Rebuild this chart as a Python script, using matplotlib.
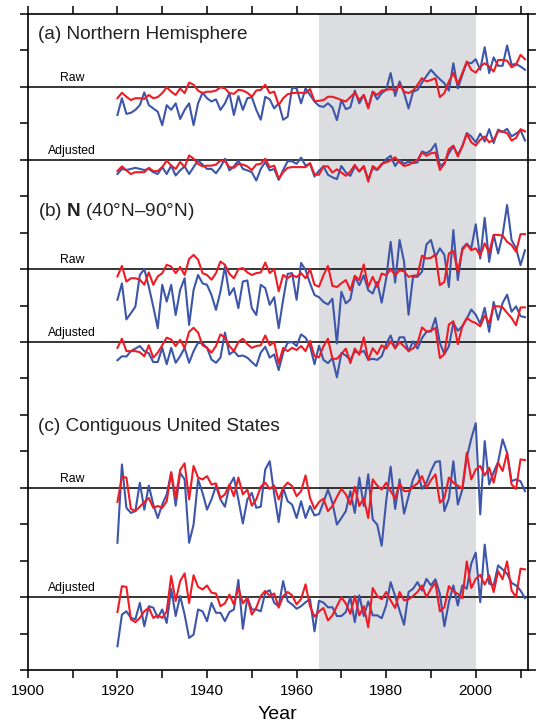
import matplotlib
matplotlib.use('Agg')
import matplotlib.pyplot as plt
import numpy as np
from matplotlib import rcParams
from matplotlib.ticker import MultipleLocator

rcParams['font.family'] = ['Liberation Sans', 'DejaVu Sans']
rcParams['mathtext.fontset'] = 'custom'
rcParams['mathtext.rm'] = 'Liberation Sans'
rcParams['mathtext.bf'] = 'Liberation Sans:bold'

# years of the series
years = np.arange(1920, 2012)

# anomalies (units = one y tick)
# (a) Northern Hemisphere
a_raw_blue = [-0.77, -0.31, -0.74, -0.71, -0.63, -0.5, -0.15, -0.5, -0.59, -0.68,
              -1.05, -0.5, -0.63, -0.45, -0.88, -0.63, -0.45, -1.05, -0.45, -0.16,
              -0.31, -0.4, -0.34, -0.63, -0.45, -0.17, -0.77, -0.25, -0.63, -0.31,
              -0.28, -0.63, -0.9, -0.27, -0.34, -0.59, -0.45, -0.9, -0.82, -0.02,
              -0.04, -0.45, -0.04, -0.22, -0.4, -0.52, -0.55, -0.45, -0.56, -0.91,
              -0.36, -0.61, -0.56, -0.1, -0.45, -0.22, -0.56, -0.13, -0.34, -0.17,
              -0.08, 0.38, -0.25, 0.15, -0.17, -0.59, -0.13, -0.08, 0.12, 0.3,
              0.47, 0.33, 0.21, 0.1, -0.1, 0.65, -0.04, 0.33, 0.67, 0.65,
              0.76, 0.47, 1.09, 0.38, 0.81, 0.58, 0.58, 1.14, 0.61, 0.63,
              0.56, 0.47]
a_raw_red = [-0.31, -0.16, -0.27, -0.36, -0.31, -0.31, -0.33, -0.22, -0.31, -0.28,
             -0.17, -0.01, -0.13, -0.22, -0.04, -0.17, 0.12, 0.06, -0.1, -0.17,
             -0.13, -0.13, -0.1, -0.01, -0.04, -0.17, -0.19, -0.08, -0.1, -0.16,
             -0.27, -0.1, -0.08, 0.06, -0.17, -0.13, -0.5, -0.31, -0.2, -0.17,
             -0.16, -0.16, -0.17, -0.06, -0.39, -0.38, -0.36, -0.27, -0.27, -0.31,
             -0.36, -0.4, -0.28, -0.16, -0.36, -0.22, -0.59, -0.13, -0.22, -0.1,
             -0.08, -0.06, -0.1, 0.06, -0.13, -0.17, -0.1, 0.06, 0.24, 0.15,
             0.19, 0.24, -0.28, -0.17, 0.15, 0.38, 0.08, 0.38, 0.7, 0.47,
             0.39, 0.56, 0.65, 0.56, 0.42, 0.74, 0.74, 0.72, 0.54, 0.61,
             0.88, 0.76]
a_adj_blue = [-0.39, -0.25, -0.28, -0.25, -0.22, -0.25, -0.28, -0.25, -0.34, -0.39,
              -0.2, -0.39, -0.16, -0.43, -0.29, -0.18, -0.39, -0.2, -0.02, -0.13,
              -0.25, -0.25, -0.37, -0.2, 0.03, -0.29, -0.18, -0.02, -0.25, -0.29,
              -0.34, -0.57, -0.25, -0.06, -0.29, -0.25, -0.55, -0.28, -0.04, -0.04,
              -0.11, 0.06, -0.16, -0.11, -0.46, -0.3, -0.18, -0.41, -0.48, -0.53,
              -0.17, -0.35, -0.44, -0.18, -0.32, -0.18, -0.53, -0.23, -0.28, -0.14,
              0.02, 0.11, -0.17, 0.0, -0.11, -0.05, -0.09, -0.07, 0.23, 0.18,
              0.26, 0.44, -0.17, -0.09, 0.18, 0.37, 0.14, 0.37, 0.73, 0.64,
              0.48, 0.72, 0.5, 0.84, 0.46, 0.83, 0.76, 0.85, 0.64, 0.72,
              0.81, 0.53]
a_adj_red = [-0.31, -0.18, -0.29, -0.39, -0.34, -0.34, -0.34, -0.22, -0.31, -0.31,
             -0.2, -0.02, -0.16, -0.25, -0.06, -0.2, 0.12, 0.03, -0.11, -0.18,
             -0.16, -0.16, -0.13, -0.02, -0.04, -0.2, -0.22, -0.11, -0.13, -0.18,
             -0.28, -0.13, -0.11, 0.03, -0.2, -0.16, -0.52, -0.34, -0.22, -0.2,
             -0.2, -0.2, -0.2, -0.09, -0.4, -0.41, -0.18, -0.18, -0.35, -0.26,
             -0.35, -0.44, -0.32, -0.14, -0.32, -0.17, -0.6, -0.17, -0.26, -0.11,
             -0.07, -0.02, 0.07, -0.07, -0.17, -0.14, -0.07, 0.0, 0.2, 0.11,
             0.18, 0.2, -0.28, -0.11, 0.29, 0.39, 0.09, 0.37, 0.72, 0.48,
             0.39, 0.55, 0.64, 0.48, 0.55, 0.78, 0.78, 0.73, 0.53, 0.6,
             0.84, 0.78]

# (b) N (40N-90N)
b_raw_blue = [-0.84, -0.39, -1.38, -1.21, -1.03, -0.16, 0.0, -0.48, -1.03, -1.62,
              -0.43, -0.89, -0.43, -1.26, -0.57, -0.25, -1.53, -0.57, -0.16, -0.39,
              -0.43, -0.71, -1.12, -0.61, 0.07, -0.71, -0.52, -1.07, -0.34, -0.31,
              -1.07, -1.26, -0.43, -0.52, -0.98, -0.77, -1.62, -0.84, -0.13, -0.11,
              -0.84, 0.17, -0.02, -0.39, -0.71, -0.77, -0.9, -0.97, -0.81, -2.04,
              -0.62, -0.94, -0.83, -0.21, -0.44, -0.17, -0.58, -0.67, -0.35, -0.92,
              -0.26, 0.75, -0.37, 0.8, 0.2, -1.25, -0.21, -0.21, -0.07, 0.68,
              0.8, 0.34, 0.57, 0.39, -0.49, 1.07, -0.3, 0.57, 0.7, 0.57,
              1.23, 0.29, 1.41, 0.2, 0.94, 0.43, 0.94, 1.76, 0.8, 0.57,
              0.11, 0.52]
b_raw_red = [-0.2, 0.09, -0.34, -0.25, -0.25, -0.29, -0.43, -0.09, -0.43, -0.2,
             -0.11, 0.12, 0.07, -0.11, 0.06, -0.16, 0.28, 0.39, 0.26, -0.11,
             -0.16, -0.29, -0.11, 0.21, 0.12, -0.13, -0.25, 0.0, 0.03, -0.09,
             -0.16, -0.11, -0.09, 0.18, -0.11, 0.0, -0.61, -0.16, -0.25, -0.16,
             -0.22, -0.11, -0.25, 0.0, -0.43, -0.48, -0.17, 0.09, -0.46, -0.49,
             -0.39, -0.3, -0.58, -0.18, -0.3, 0.13, -0.49, -0.21, -0.49, -0.12,
             -0.17, 0.0, -0.17, -0.03, -0.06, -0.21, -0.18, -0.17, 0.37, 0.29,
             0.31, 0.4, -0.44, -0.35, 0.43, 0.5, -0.07, 0.52, 0.68, 0.52,
             0.57, 0.37, 0.71, 0.46, 0.94, 0.94, 0.92, 0.75, 0.66, 0.48,
             0.96, 0.96]
b_adj_blue = [-0.5, -0.39, -0.4, -0.25, -0.18, -0.11, -0.25, -0.31, -0.55, -0.55,
              -0.16, -0.61, -0.16, -0.57, -0.39, -0.16, -0.57, -0.25, -0.02, -0.04,
              -0.16, -0.48, -0.57, -0.43, 0.26, -0.34, -0.25, -0.39, -0.37, -0.43,
              -0.55, -0.66, -0.29, -0.13, -0.43, -0.34, -0.77, -0.29, -0.02, 0.0,
              -0.11, 0.21, 0.12, -0.11, -0.61, -0.1, -0.49, -0.58, -0.44, -0.97,
              -0.3, -0.37, -0.49, -0.26, -0.3, -0.24, -0.49, -0.46, -0.49, -0.39,
              -0.06, 0.18, -0.18, 0.13, 0.13, -0.26, 0.02, -0.18, 0.11, 0.28,
              0.29, 0.66, -0.03, -0.33, -0.12, 0.52, 0.31, 0.43, 0.64, 0.89,
              0.75, 0.5, 0.94, 0.28, 1.1, 0.61, 1.07, 1.3, 0.83, 0.98,
              0.71, 0.68]
b_adj_red = [-0.16, 0.09, -0.25, -0.25, -0.25, -0.28, -0.39, -0.09, -0.43, -0.29,
             -0.09, 0.12, 0.07, -0.11, 0.06, -0.16, 0.28, 0.39, 0.26, -0.09,
             -0.16, -0.29, -0.11, 0.21, 0.12, -0.11, -0.25, 0.0, 0.09, -0.06,
             -0.16, -0.11, -0.09, 0.18, -0.09, 0.0, -0.59, -0.16, -0.25, -0.16,
             -0.22, -0.11, -0.25, 0.03, -0.39, -0.42, -0.12, 0.09, -0.46, -0.46,
             -0.33, -0.18, -0.58, -0.18, -0.35, 0.13, -0.49, -0.17, -0.33, -0.09,
             -0.18, 0.02, -0.17, 0.0, -0.12, -0.24, -0.18, -0.03, 0.4, 0.29,
             0.31, 0.39, -0.44, -0.33, 0.48, 0.57, -0.06, 0.43, 0.66, 0.57,
             0.52, 0.43, 0.73, 0.52, 0.98, 0.98, 0.95, 0.8, 0.66, 0.46,
             0.95, 0.95]

# (c) Contiguous United States
c_raw_blue = [-1.51, 0.64, -0.55, -0.69, -0.64, 0.14, -0.6, 0.06, -0.46, -0.83,
              -0.46, -0.18, 0.41, -0.49, 0.41, 0.23, -1.51, -1.01, 0.23, -0.14,
              -0.6, -0.32, 0.05, -0.32, -0.52, 0.06, 0.28, -0.32, -0.98, -0.32,
              -0.14, -0.55, -0.52, 0.5, 0.73, -0.18, -0.94, 0.0, -0.37, -0.46,
              -0.83, -0.37, -0.83, -0.5, -0.76, -0.72, -0.4, -0.05, -0.41, -1.01,
              -0.83, -0.64, -0.09, -0.69, 0.28, -0.5, 0.37, -0.87, -1.01, -1.59,
              -0.37, 0.58, -0.58, 0.23, -0.71, -0.23, 0.23, 0.49, -0.03, 0.14,
              0.46, 0.71, 0.73, -0.64, -0.3, 0.73, -0.46, -0.05, 0.83, 1.35,
              1.77, -0.73, 1.28, 0.09, 0.43, 0.71, 1.33, 0.96, 0.18, 0.23,
              0.18, -0.09]
c_raw_red = [-0.39, 0.3, 0.28, -0.58, -0.64, -0.52, -0.39, -0.28, -0.55, -0.5,
             -0.55, -0.37, 0.43, -0.28, 0.49, 0.67, -0.32, 0.6, 0.28, 0.23,
             0.32, 0.09, 0.12, -0.28, -0.18, 0.09, -0.23, 0.28, -0.18, -0.05,
             -0.49, -0.32, 0.03, 0.14, -0.03, 0.06, -0.32, 0.0, 0.14, 0.05,
             -0.23, -0.09, 0.34, -0.28, -0.58, -0.39, -0.3, -0.64, -0.5, -0.25,
             -0.03, -0.18, -0.46, 0.03, -0.5, -0.28, -0.83, 0.23, 0.06, -0.05,
             0.14, -0.09, -0.3, 0.12, -0.09, -0.09, 0.03, 0.12, 0.32, 0.0,
             0.21, 0.37, -0.41, -0.28, 0.28, 0.14, 0.06, -0.03, 0.96, 0.23,
             0.5, 0.6, 0.34, 0.55, 0.14, 0.69, 0.46, 0.96, 0.09, -0.03,
             0.78, 0.76]
c_adj_blue = [-1.35, -0.48, -0.39, -0.57, -0.61, -0.16, -0.8, -0.25, -0.29, -0.57,
              -0.34, -0.71, 0.23, -0.52, 0.03, -0.48, -1.12, -1.03, -0.34, -0.39,
              -0.66, -0.16, -0.43, -0.43, -0.66, -0.41, -0.34, 0.47, -0.87, -0.02,
              -0.34, -0.34, -0.39, 0.12, 0.19, -0.16, -0.25, 0.44, -0.11, -0.2,
              -0.32, -0.25, -0.14, -0.06, -0.94, -0.1, -0.15, -0.28, -0.28, -0.52,
              -0.52, -0.41, 0.0, -0.69, 0.05, -0.52, -0.12, -0.5, -0.5, -0.58,
              -0.23, 0.41, 0.03, -0.37, -0.76, 0.14, 0.23, 0.41, 0.18, 0.5,
              0.32, 0.49, 0.09, -0.8, -0.14, 0.32, -0.23, 0.32, 0.23, 0.92,
              1.22, -0.14, 1.44, 0.37, 0.32, 0.87, 0.76, 0.64, 0.39, 0.32,
              0.18, -0.03]
c_adj_red = [-0.41, 0.3, 0.28, -0.61, -0.69, -0.57, -0.39, -0.29, -0.57, -0.5,
             -0.57, -0.39, 0.58, -0.11, 0.44, 0.65, -0.16, 0.6, 0.28, 0.21,
             0.32, 0.12, 0.1, -0.25, -0.17, 0.07, -0.2, 0.26, -0.17, -0.02,
             -0.48, -0.29, 0.03, 0.17, 0.03, 0.1, -0.29, 0.03, 0.14, 0.05,
             -0.2, -0.05, 0.35, -0.25, -0.54, -0.39, -0.3, -0.64, -0.5, -0.25,
             0.0, -0.18, -0.46, 0.03, -0.5, -0.25, -0.83, 0.25, 0.03, -0.06,
             0.14, -0.09, -0.3, 0.14, -0.09, -0.06, 0.03, 0.14, 0.32, 0.0,
             0.23, 0.39, -0.39, -0.28, 0.3, 0.16, 0.09, -0.03, 0.98, 0.25,
             0.5, 0.61, 0.34, 0.6, 0.14, 0.71, 0.49, 0.98, 0.18, 0.0,
             0.78, 0.76]

# stacking: (label, vertical offset, blue series, red series)
stack = [('Raw', 16, a_raw_blue, a_raw_red),
         ('Adjusted', 14, a_adj_blue, a_adj_red),
         ('Raw', 11, b_raw_blue, b_raw_red),
         ('Adjusted', 9, b_adj_blue, b_adj_red),
         ('Raw', 5, c_raw_blue, c_raw_red),
         ('Adjusted', 2, c_adj_blue, c_adj_red)]

titles = [(17.43, '(a) Northern Hemisphere'),
          (12.57, r'(b) $\mathbf{N}$ (40°N–90°N)'),
          (6.67, '(c) Contiguous United States')]

blue = '#3d56aa'
red = '#ee1c25'

fig = plt.figure(figsize=(5.36, 7.24), dpi=100)
ax = fig.add_axes([0.052, 0.0746, 0.9325, 0.906])

# period shading
ax.axvspan(1965, 2000, color='#dcdde0', lw=0, zorder=0)

for label, off, sb, sr in stack:
    ax.axhline(off, color='black', lw=1.1, zorder=2)
    ax.plot(years, np.array(sb) + off, color=blue, lw=1.5, zorder=3)
    ax.plot(years, np.array(sr) + off, color=red, lw=1.5, zorder=4)
    ax.text(1909.8, off + 0.08, label, fontsize=8.8, ha='center', va='bottom')

for ty, t in titles:
    ax.text(1902.2, ty, t, fontsize=13.7, ha='left', va='center', color='#222222')

ax.set_xlim(1900, 2011.6)
ax.set_ylim(0, 18)
ax.xaxis.set_major_locator(MultipleLocator(20))
ax.xaxis.set_minor_locator(MultipleLocator(10))
ax.yaxis.set_major_locator(MultipleLocator(1))
ax.tick_params(axis='both', which='both', direction='out', length=6, width=1.1,
               top=True, right=True)
ax.tick_params(axis='x', labelsize=11, pad=4)
ax.set_yticklabels([])
ax.set_xlabel('Year', fontsize=14, labelpad=6)
for s in ax.spines.values():
    s.set_linewidth(1.2)

plt.savefig('out.png', dpi=100)
plt.close()
